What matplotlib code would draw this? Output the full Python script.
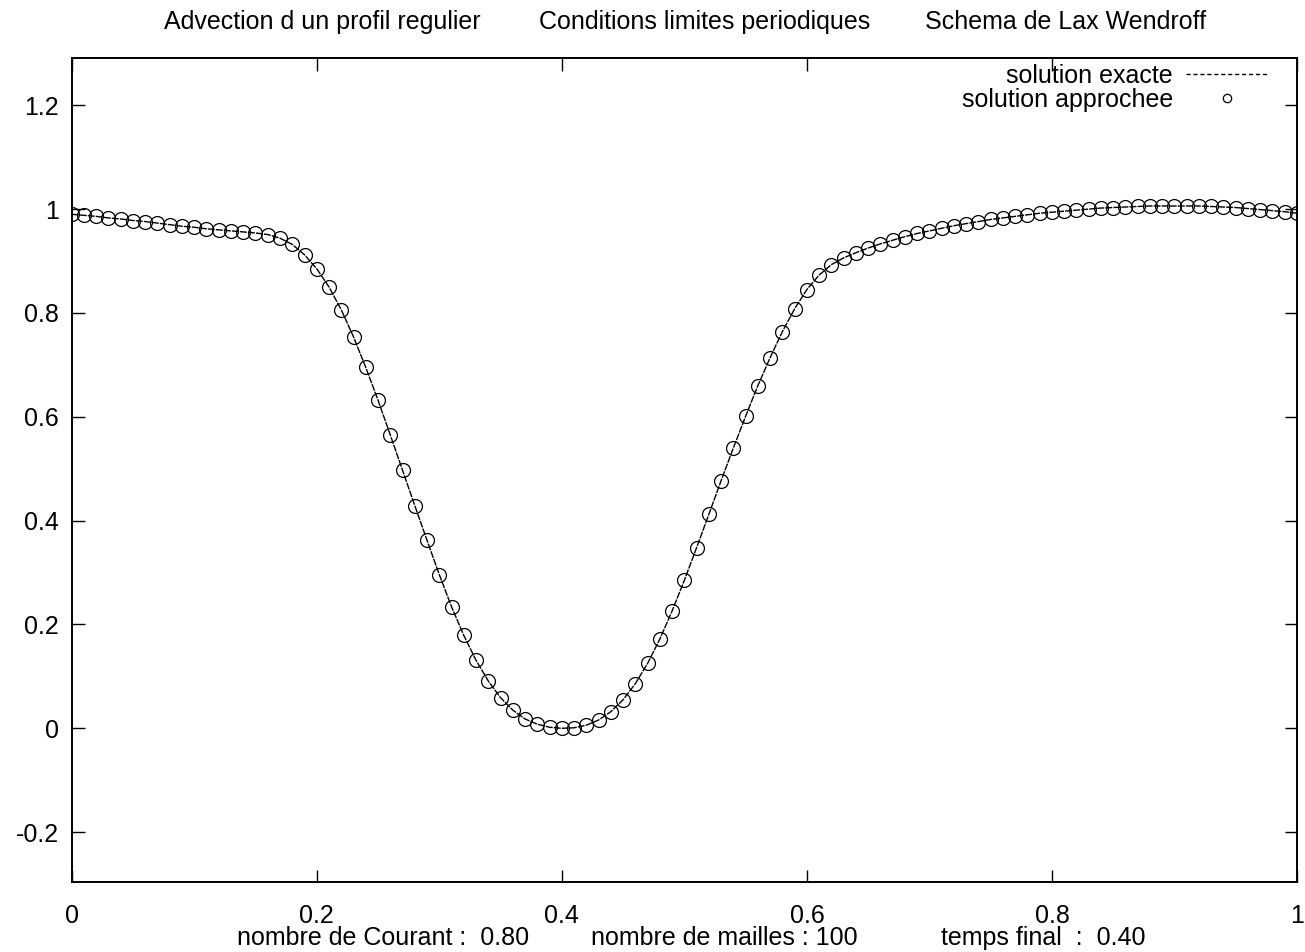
import numpy as np
import matplotlib.pyplot as plt
from matplotlib.lines import Line2D

# mesh nodes (100 cells on [0, 1])
x_nodes = np.linspace(0.0, 1.0, 101)

# values, one per node
u_approx = [
    0.990, 0.988, 0.986, 0.983, 0.981, 0.978, 0.976, 0.973, 0.970, 0.967,
    0.965, 0.962, 0.960, 0.958, 0.956, 0.954, 0.951, 0.944, 0.932, 0.912,
    0.885, 0.850, 0.806, 0.754, 0.695, 0.632, 0.565, 0.497, 0.429, 0.362,
    0.296, 0.234, 0.179, 0.131, 0.091, 0.059, 0.035, 0.018, 0.008, 0.002,
    0.000, 0.001, 0.006, 0.016, 0.032, 0.055, 0.086, 0.125, 0.172, 0.226,
    0.285, 0.348, 0.412, 0.477, 0.540, 0.601, 0.660, 0.714, 0.764, 0.808,
    0.845, 0.873, 0.893, 0.906, 0.916, 0.925, 0.933, 0.940, 0.947, 0.953,
    0.958, 0.963, 0.968, 0.972, 0.976, 0.980, 0.983, 0.986, 0.989, 0.992,
    0.994, 0.996, 0.998, 1.000, 1.002, 1.003, 1.004, 1.005, 1.006, 1.006,
    1.006, 1.006, 1.006, 1.005, 1.004, 1.003, 1.001, 0.999, 0.997, 0.995,
    0.992,
]
# exact profile coincides with the scheme to plotting accuracy
u_exact = u_approx

x_ticks = [0, 0.2, 0.4, 0.6, 0.8, 1]
x_ticklabels = ["0", "0.2", "0.4", "0.6", "0.8", "1"]
y_ticks = [-0.2, 0, 0.2, 0.4, 0.6, 0.8, 1, 1.2]
y_ticklabels = ["-0.2", "0", "0.2", "0.4", "0.6", "0.8", "1", "1.2"]

title_parts = ["Advection d un profil regulier",
               "Conditions limites periodiques",
               "Schema de Lax Wendroff"]
footer_parts = ["nombre de Courant :  0.80",
                "nombre de mailles : 100",
                "temps final  :  0.40"]

plt.rcParams['font.family'] = ['Liberation Sans', 'DejaVu Sans']
FS = 18

W, H = 1305, 952
fig = plt.figure(figsize=(W / 100, H / 100), dpi=100)
left, right, top, bottom = 71.7, 1297, 58, 882
ax = fig.add_axes([left / W, 1 - bottom / H, (right - left) / W, (bottom - top) / H])

ax.plot(x_nodes, u_exact, color='black', lw=1.0, ls=(0, (5, 0.8)))
ax.plot(x_nodes, u_approx, ls='none', marker='o', ms=10, mfc='none',
        mec='black', mew=0.9)

ax.set_xlim(0, 1)
ax.set_ylim(-0.296, 1.291)
ax.set_xticks(x_ticks)
ax.set_xticklabels(x_ticklabels)
ax.set_yticks(y_ticks)
ax.set_yticklabels(y_ticklabels)
ax.tick_params(direction='in', length=9, width=1.0, labelsize=FS,
               top=True, right=True, color='black')
ax.tick_params(axis='x', pad=16)
ax.tick_params(axis='y', pad=9)
for s in ax.spines.values():
    s.set_linewidth(1.4)

handles = [Line2D([], [], color='black', lw=1.0, ls=(0, (3, 2))),
           Line2D([], [], ls='none', marker='o', ms=6, mfc='none', mec='black', mew=0.9)]
ax.legend(handles, ["solution exacte", "solution approchee"], loc='upper right',
          bbox_to_anchor=(1 - 19 / 1225.3, 1 + 4 / 824), borderaxespad=0,
          frameon=False, markerfirst=False, fontsize=FS, handlelength=3.3,
          handletextpad=0.5, labelspacing=0.0)

for txt, cx in zip(title_parts, [322, 705, 1066]):
    fig.text(cx / W, 1 - 22 / H, txt, ha='center', va='center', fontsize=FS)
for txt, cx in zip(footer_parts, [383, 724, 1043]):
    fig.text(cx / W, 1 - 938 / H, txt, ha='center', va='center', fontsize=FS)

fig.savefig('out.png', dpi=100)
